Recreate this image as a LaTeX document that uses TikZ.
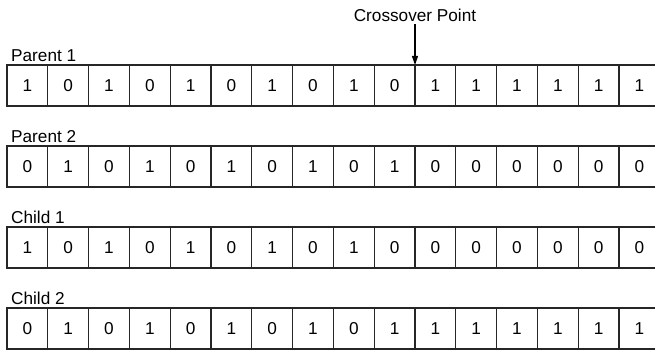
\documentclass[tikz,border=0pt]{standalone}
\usepackage{fontspec}
\setmainfont{Liberation Sans}
\usetikzlibrary{arrows.meta,positioning}

\tikzset{
  bit/.style={draw=black!85,line width=1.1pt,minimum width=40.8pt,minimum height=41pt,inner sep=0pt,outer sep=0pt},
  rowname/.style={anchor=base west,inner sep=0pt}
}

\begin{document}
\begin{tikzpicture}[x=1pt,y=1pt,>={Triangle[length=9pt,width=6pt]},font=\fontsize{17.2}{20}\selectfont]
  \useasboundingbox (0,0) rectangle (655,351);
  \clip (0,0) rectangle (655,351);
  % stringhe: genitori e figli
  \foreach \r/\t/\y/\bits in {p1/Parent 1/286/{1,0,1,0,1,0,1,0,1,0,1,1,1,1,1,1},
                              p2/Parent 2/205/{0,1,0,1,0,1,0,1,0,1,0,0,0,0,0,0},
                              c1/Child 1/124/{1,0,1,0,1,0,1,0,1,0,0,0,0,0,0,0},
                              c2/Child 2/43/{0,1,0,1,0,1,0,1,0,1,1,1,1,1,1,1}} {
    \node[rowname] (\r-lab) at (11,{\y+3.5}) {\t};
    \foreach \b [count=\i] in \bits
      \node[bit,anchor=north west] (\r-\i) at ({7+40.8*(\i-1)},\y) {\b};
  }
  % punto di crossover
  \node[anchor=base,inner sep=2pt] (cross) at (415,329.3) {Crossover Point};
  \draw[->,line width=1.1pt] (cross.south) -- (p1-10.north east);
\end{tikzpicture}
\end{document}
